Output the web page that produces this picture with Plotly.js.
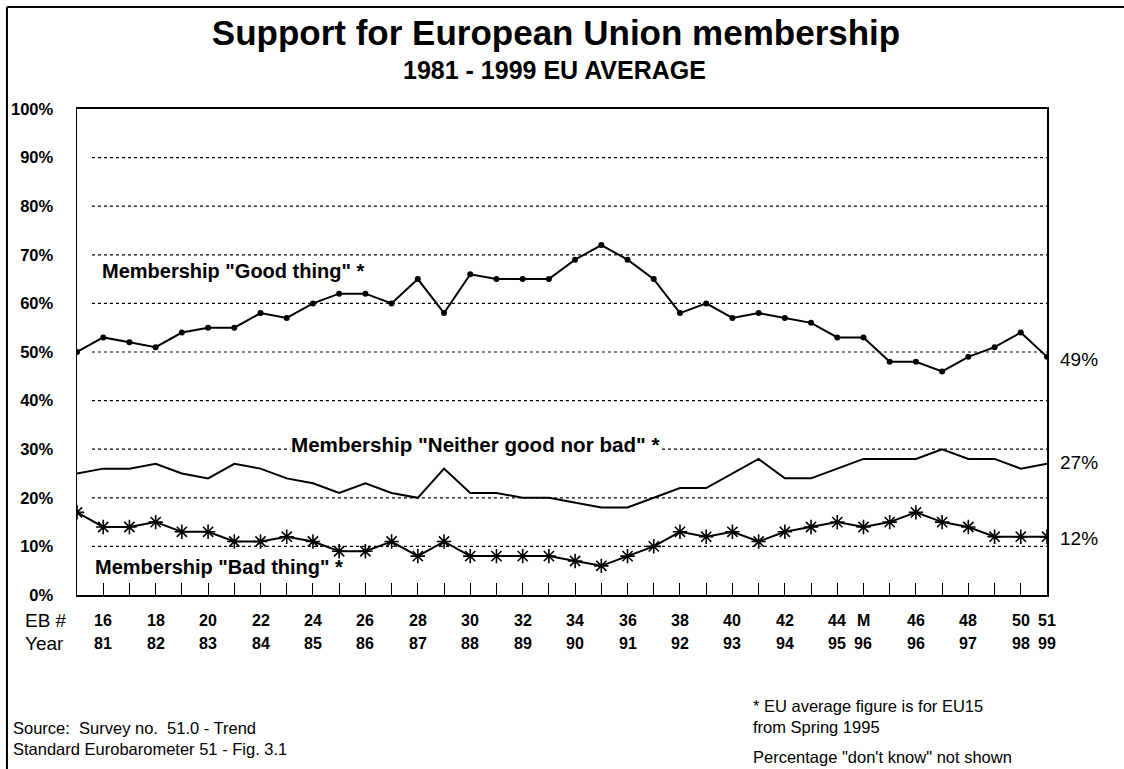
<!DOCTYPE html>
<html>
<head>
<meta charset="utf-8">
<script src="https://cdn.plot.ly/plotly-3.0.1.min.js"></script>
<style>
  html, body { margin: 0; padding: 0; background: #ffffff; }
  #chart { width: 1124px; height: 769px; }
</style>
</head>
<body>
<div id="chart"></div>
<script>
// ---------- DATA ----------
const ebNumbers = ['15','16','17','18','19','20','21','22','23','24','25','26','27','28','29',
  '30','31','32','33','34','35','36','37','38','39','40','41','42','43','44','M','45','46','47','48','49','50','51'];

const goodThing = [50,53,52,51,54,55,55,58,57,60,62,62,60,65,58,66,65,65,65,69,72,69,65,58,60,57,58,57,56,53,53,48,48,46,49,51,54,49];
const neitherGoodNorBad = [25,26,26,27,25,24,27,26,24,23,21,23,21,20,26,21,21,20,20,19,18,18,20,22,22,25,28,24,24,26,28,28,28,30,28,28,26,27];
const badThing = [17,14,14,15,13,13,11,11,12,11,9,9,11,8,11,8,8,8,8,7,6,8,10,13,12,13,11,13,14,15,14,15,17,15,14,12,12,12];

const ebTickText = ['16','18','20','22','24','26','28','30','32','34','36','38','40','42','44','M','46','48','50','51'];
const yearTickText = ['81','82','83','84','85','86','87','88','89','90','91','92','93','94','95','96','96','97','98','99'];

const yTickValues = [0,10,20,30,40,50,60,70,80,90,100];
const gridValues = [10,20,30,40,50,60,70,80,90];

const seriesNames = ['Membership "Good thing" *', 'Membership "Neither good nor bad" *', 'Membership "Bad thing" *'];

// ---------- BUILD ----------
const FONT = 'Liberation Sans, Arial, Helvetica, sans-serif';
const xIdx = ebNumbers.map((_, i) => i);
const lastIdx = xIdx.length - 1;

const traces = [
  { x: xIdx, y: goodThing, type: 'scatter', mode: 'lines+markers', name: seriesNames[0],
    line: { color: '#000', width: 2 }, marker: { symbol: 'circle', size: 6, color: '#000' } },
  { x: xIdx, y: neitherGoodNorBad, type: 'scatter', mode: 'lines', name: seriesNames[1],
    line: { color: '#000', width: 2 } },
  { x: xIdx, y: badThing, type: 'scatter', mode: 'lines+markers', name: seriesNames[2],
    line: { color: '#000', width: 2 },
    marker: { symbol: 'asterisk-open', size: 12, color: '#000', line: { color: '#000', width: 1.6 } } }
];

const shapes = gridValues.map(v => ({
  type: 'line', xref: 'x', yref: 'y', x0: 0.57, x1: lastIdx, y0: v, y1: v,
  line: { color: '#000', width: 1.2, dash: 'dot' }, layer: 'below'
}));
// outer frame (left + top)
shapes.push({ type: 'line', xref: 'paper', yref: 'paper', x0: -0.0722, x1: -0.0722, y0: 1.21, y1: -0.36,
  line: { color: '#000', width: 2 } });
shapes.push({ type: 'line', xref: 'paper', yref: 'paper', x0: -0.0722, x1: 1.08, y0: 1.21, y1: 1.21,
  line: { color: '#000', width: 2 } });

const annotations = [];
// x labels (EB # and year)
const tickFont = { family: FONT, size: 16, weight: 'bold', color: '#000' };
ebTickText.forEach((t, k) => {
  const xi = ebNumbers.indexOf(t);
  annotations.push({ x: xi, xref: 'x', y: -0.0529, yref: 'paper', text: t, showarrow: false,
    xanchor: 'center', yanchor: 'middle', font: tickFont });
  annotations.push({ x: xi, xref: 'x', y: -0.0988, yref: 'paper', text: yearTickText[k], showarrow: false,
    xanchor: 'center', yanchor: 'middle', font: tickFont });
});
annotations.push({ x: -0.0557, xref: 'paper', y: -0.0529, yref: 'paper', text: 'EB #', showarrow: false,
  xanchor: 'left', yanchor: 'middle', font: { family: FONT, size: 19, color: '#000' } });
annotations.push({ x: -0.0557, xref: 'paper', y: -0.0988, yref: 'paper', text: 'Year', showarrow: false,
  xanchor: 'left', yanchor: 'middle', font: { family: FONT, size: 19, color: '#000' } });

// series labels
const labelFont = { family: FONT, size: 20, weight: 'bold', color: '#000' };
annotations.push({ x: 0.88, xref: 'x', y: 66.7, yref: 'y', text: seriesNames[0], showarrow: false,
  xanchor: 'left', yanchor: 'middle', font: labelFont });
annotations.push({ x: 8.13, xref: 'x', y: 30.9, yref: 'y', text: seriesNames[1], showarrow: false,
  xanchor: 'left', yanchor: 'middle', font: { family: FONT, size: 20.6, weight: 'bold', color: '#000' },
  bgcolor: '#fff', borderpad: 0 });
annotations.push({ x: 0.61, xref: 'x', y: 5.8, yref: 'y', text: seriesNames[2], showarrow: false,
  xanchor: 'left', yanchor: 'middle', font: labelFont });

// end value labels
const endFont = { family: FONT, size: 19, color: '#000' };
[[goodThing, -3], [neitherGoodNorBad, 1], [badThing, -2]].forEach(([arr, sh]) => {
  annotations.push({ x: 1.0113, xref: 'paper', y: arr[lastIdx], yref: 'y', yshift: sh,
    text: arr[lastIdx] + '%', showarrow: false, xanchor: 'left', yanchor: 'middle', font: endFont });
});

// subtitle
annotations.push({ x: 0.492, xref: 'paper', y: 1.08, yref: 'paper', text: '1981 - 1999 EU AVERAGE', showarrow: false,
  xanchor: 'center', yanchor: 'middle', font: { family: FONT, size: 25, weight: 'bold', color: '#000' } });

// footnotes (paper y = (595 - py) / 486)
const noteFont = { family: FONT, size: 16.5, color: '#000' };
const notes = [
  ['Source:\u00a0 Survey no.\u00a0 51.0 - Trend', -0.067, (595 - 728) / 486],
  ['Standard Eurobarometer 51 - Fig. 3.1', -0.067, (595 - 749) / 486],
  ['* EU average figure is for EU15', 0.6959, (595 - 706) / 486],
  ['from Spring 1995', 0.6959, (595 - 727) / 486],
  ['Percentage "don\'t know" not shown', 0.6959, (595 - 757) / 486]
];
notes.forEach(([t, x, y]) => annotations.push({ x: x, xref: 'paper', y: y, yref: 'paper', text: t,
  showarrow: false, xanchor: 'left', yanchor: 'middle', font: noteFont, borderpad: 0 }));

const layout = {
  width: 1124, height: 769,
  margin: { l: 77, r: 77, t: 109, b: 174, pad: 0 },
  paper_bgcolor: '#fff', plot_bgcolor: '#fff',
  showlegend: false,
  title: { text: 'Support for European Union membership', x: 0.4947, xanchor: 'center',
    y: 0.958, yanchor: 'middle', yref: 'container',
    font: { family: FONT, size: 35, weight: 'bold', color: '#000' } },
  xaxis: {
    range: [0, lastIdx], showgrid: false, zeroline: false,
    showline: true, linecolor: '#000', linewidth: 1.8, mirror: true,
    ticks: 'inside', ticklen: 12, tickcolor: '#000', tickwidth: 1,
    tickvals: xIdx.slice(1), showticklabels: false, fixedrange: true
  },
  yaxis: {
    range: [0, 100], showgrid: false, zeroline: false,
    showline: true, linecolor: '#000', linewidth: 1.5, mirror: true,
    ticks: '', tickvals: yTickValues, ticktext: yTickValues.map(v => v + '%'),
    ticklabelstandoff: 19,
    tickfont: { family: FONT, size: 16.5, weight: 'bold', color: '#000' }, fixedrange: true
  },
  shapes: shapes,
  annotations: annotations
};

Plotly.newPlot('chart', traces, layout, { staticPlot: true, displayModeBar: false });
</script>
</body>
</html>
